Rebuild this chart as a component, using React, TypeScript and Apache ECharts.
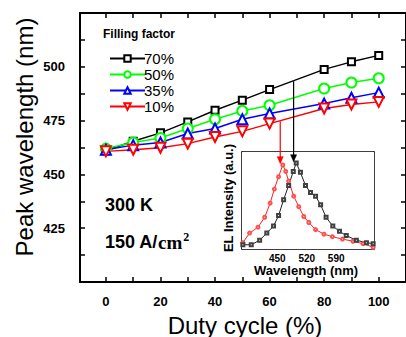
import React, { useEffect, useRef } from "react";
import * as echarts from "echarts";

// ---- main plot data ----
const DUTY = [0, 10, 20, 30, 40, 50, 60, 80, 90, 100];
const FF70 = [461, 465.4, 469.3, 474.4, 479.8, 484.5, 489.4, 498.8, 502.3, 505.3];
const FF50 = [462, 464.8, 466.9, 471.3, 475.6, 479.5, 482.1, 489.9, 492.7, 494.7];
const FF35 = [461.5, 463.6, 464.8, 469, 471.3, 475.6, 478.3, 482.9, 485.6, 488];
const FF10 = [460.7, 461.5, 462.4, 464.3, 467.4, 470, 473.6, 480.6, 482.5, 483.7];
const LEGEND_NAMES = ["70%", "50%", "35%", "10%"];

const X_TICKS = [0, 10, 20, 30, 40, 50, 60, 70, 80, 90, 100, 110];
const X_LABELS = [0, 20, 40, 60, 80, 100];
const Y_LABELS = [425, 450, 475, 500];

// ---- inset data (EL spectra) ----
const RED_WL = [368, 384, 404, 420, 433, 443, 453, 463, 470, 477, 489, 501, 513, 525, 541, 561, 581, 605, 630, 654, 678];
const RED_I = [0.065, 0.164, 0.225, 0.327, 0.473, 0.618, 0.745, 0.866, 0.8, 0.7, 0.545, 0.436, 0.335, 0.273, 0.2, 0.153, 0.127, 0.102, 0.08, 0.055, 0.018];
const BLK_WL = [368, 388, 408, 425, 441, 453, 465, 477, 488, 495, 505, 517, 529, 541, 553, 566, 582, 598, 614, 638, 662, 678];
const BLK_I = [0.044, 0.044, 0.09, 0.164, 0.236, 0.345, 0.509, 0.655, 0.8, 0.887, 0.79, 0.655, 0.582, 0.545, 0.455, 0.327, 0.236, 0.182, 0.138, 0.091, 0.065, 0.055];
const INSET_X_TICKS = [380, 415, 450, 485, 520, 555, 590, 625, 660];
const INSET_X_LABELS = [450, 520, 590];
const INSET_Y_TICKS = [0.062, 0.302, 0.542, 0.784];

// arrows: [duty, value on main curve] -> [wavelength, intensity] peak in inset
const ARROW_COLORS = ["#ff0000", "#000000"];
const ARROW_FROM = [[63.9, 474.7], [68.8, 493.3]];
const ARROW_TO = [[463, 0.88], [495, 0.9]];

const FONT = "'Liberation Sans', Arial, sans-serif";

function pairs(xs: number[], ys: number[]) {
  return xs.map((x, i) => [x, ys[i]]);
}

export default function App() {
  const ref = useRef<HTMLDivElement>(null);
  useEffect(() => {
    if (!ref.current) return;
    const chart = echarts.init(ref.current, null, { renderer: "svg" });

    const mainX = (pos: "bottom" | "top", labels: boolean) => ({
      type: "value",
      gridIndex: 0,
      position: pos,
      min: -9.5,
      max: 110,
      axisLine: { show: true, onZero: false, lineStyle: { color: "#000", width: 2 } },
      axisTick: { show: true, inside: true, length: 5, customValues: X_TICKS, lineStyle: { color: "#000", width: 1.5 } },
      axisLabel: {
        show: labels,
        customValues: X_LABELS,
        color: "#000",
        fontWeight: "bold",
        fontSize: 13,
        fontFamily: FONT,
        margin: 13,
      },
      splitLine: { show: false },
    });
    const mainY = (pos: "left" | "right", labels: boolean) => ({
      type: "value",
      gridIndex: 0,
      position: pos,
      min: 400,
      max: 525,
      interval: 12.5,
      axisLine: { show: true, onZero: false, lineStyle: { color: "#000", width: 2 } },
      axisTick: { show: true, inside: true, length: 5, lineStyle: { color: "#000", width: 1.5 } },
      axisLabel: {
        show: labels,
        customValues: Y_LABELS,
        color: "#000",
        fontWeight: "bold",
        fontSize: 13,
        fontFamily: FONT,
        margin: 15,
      },
      splitLine: { show: false },
    });
    const insetX = (pos: "bottom" | "top", labels: boolean) => ({
      type: "value",
      gridIndex: 1,
      position: pos,
      min: 366,
      max: 680,
      axisLine: { show: true, onZero: false, lineStyle: { color: "#000", width: 1.5 } },
      axisTick: { show: true, inside: true, length: 3, customValues: INSET_X_TICKS, lineStyle: { color: "#000", width: 1 } },
      axisLabel: {
        show: labels,
        customValues: INSET_X_LABELS,
        color: "#000",
        fontWeight: "bold",
        fontSize: 10,
        fontFamily: FONT,
        margin: 4,
      },
      splitLine: { show: false },
    });
    const insetY = (pos: "left" | "right") => ({
      type: "value",
      gridIndex: 1,
      position: pos,
      min: 0,
      max: 1,
      axisLine: { show: true, onZero: false, lineStyle: { color: "#000", width: 1.5 } },
      axisTick: { show: true, inside: true, length: 3, customValues: INSET_Y_TICKS, lineStyle: { color: "#000", width: 1 } },
      axisLabel: { show: false },
      splitLine: { show: false },
    });

    const mainSeries = (name: string, data: number[], color: string, symbol: string, size: number, rotate = 0) => ({
      name,
      type: "line",
      xAxisIndex: 0,
      yAxisIndex: 0,
      data: pairs(DUTY, data),
      symbol,
      symbolSize: size,
      symbolRotate: rotate,
      showAllSymbol: true,
      lineStyle: { color, width: 1.5 },
      itemStyle: { color, borderColor: color, borderWidth: 1.5 },
      z: 3,
    });

    const option: any = {
      animation: false,
      backgroundColor: "#fff",
      grid: [
        { left: 80, top: 13, width: 330.4, height: 269, show: false },
        { left: 242, top: 152, width: 132, height: 97, show: true, backgroundColor: "#fff", borderWidth: 0, z: 5 },
      ],
      xAxis: [mainX("bottom", true), mainX("top", false), insetX("bottom", true), insetX("top", false)],
      yAxis: [mainY("left", true), mainY("right", false), insetY("left"), insetY("right")],
      legend: {
        data: LEGEND_NAMES,
        orient: "vertical",
        left: 104,
        top: 46,
        itemWidth: 35,
        itemHeight: 8,
        itemGap: 1,
        textStyle: { fontSize: 15, color: "#000", fontFamily: FONT, padding: [0, 0, 0, -6] },
        inactiveColor: "#000",
      },
      series: [
        mainSeries("70%", FF70, "#000000", "emptyRect", 7),
        mainSeries("50%", FF50, "#00ff00", "emptyCircle", 10),
        mainSeries("35%", FF35, "#0000ff", "emptyTriangle", 10),
        mainSeries("10%", FF10, "#ff0000", "emptyTriangle", 10, 180),
        {
          name: "insetRed",
          type: "line",
          xAxisIndex: 2,
          yAxisIndex: 2,
          data: pairs(RED_WL, RED_I),
          symbol: "emptyCircle",
          symbolSize: 3,
          showAllSymbol: true,
          lineStyle: { color: "#ff2020", width: 1 },
          itemStyle: { color: "#ff5050", borderColor: "#ff5050", borderWidth: 0.8 },
          z: 6,
        },
        {
          name: "insetBlack",
          type: "line",
          xAxisIndex: 2,
          yAxisIndex: 2,
          data: pairs(BLK_WL, BLK_I),
          symbol: "emptyRect",
          symbolSize: 3,
          showAllSymbol: true,
          lineStyle: { color: "#202020", width: 1 },
          itemStyle: { color: "#404040", borderColor: "#404040", borderWidth: 0.8 },
          z: 6,
        },
      ],
    };
    chart.setOption(option);

    const graphics: any[] = [
      {
        type: "text",
        x: 24,
        y: 137,
        rotation: Math.PI / 2,
        style: { text: "Peak wavelength (nm)", font: `24px ${FONT}`, fill: "#000", align: "center", verticalAlign: "middle" },
      },
      {
        type: "text",
        x: 245,
        y: 325,
        style: { text: "Duty cycle (%)", font: `24px ${FONT}`, fill: "#000", align: "center", verticalAlign: "middle" },
      },
      {
        type: "text",
        x: 103,
        y: 34,
        style: { text: "Filling factor", font: `bold 12px ${FONT}`, fill: "#000", align: "left", verticalAlign: "middle" },
      },
      {
        type: "text",
        x: 105,
        y: 205,
        style: { text: "300 K", font: `bold 18px ${FONT}`, fill: "#000", align: "left", verticalAlign: "middle" },
      },
      {
        type: "text",
        x: 105,
        y: 242,
        style: {
          text: "{a|150 A/}{b|cm}{c|2}",
          fill: "#000",
          align: "left",
          verticalAlign: "middle",
          rich: {
            a: { font: `bold 18px ${FONT}`, fill: "#000" },
            b: { font: `bold 19px 'Liberation Serif', 'Times New Roman', serif`, fill: "#000" },
            c: { font: `bold 12px 'Liberation Serif', 'Times New Roman', serif`, fill: "#000", verticalAlign: "top", padding: [0, 0, 10, 1] },
          },
        },
      },
      {
        type: "text",
        x: 228,
        y: 198,
        rotation: Math.PI / 2,
        z: 10,
        style: { text: "EL Intensity (a.u.)", font: `bold 13px ${FONT}`, fill: "#000", align: "center", verticalAlign: "middle" },
      },
      {
        type: "text",
        x: 306,
        y: 270,
        z: 10,
        style: { text: "Wavelength (nm)", font: `bold 13px ${FONT}`, fill: "#000", align: "center", verticalAlign: "middle" },
      },
    ];

    ARROW_FROM.forEach((from, i) => {
      const p0 = chart.convertToPixel({ xAxisIndex: 0, yAxisIndex: 0 } as any, from) as number[];
      const p1 = chart.convertToPixel({ xAxisIndex: 2, yAxisIndex: 2 } as any, ARROW_TO[i]) as number[];
      const x = p0[0];
      const color = ARROW_COLORS[i];
      graphics.push({
        type: "line",
        z: 20,
        shape: { x1: x, y1: p0[1], x2: x, y2: p1[1] - 5 },
        style: { stroke: color, lineWidth: 1.2 },
      });
      graphics.push({
        type: "polygon",
        z: 20,
        shape: { points: [[x - 3, p1[1] - 7], [x + 3, p1[1] - 7], [x, p1[1]]] },
        style: { fill: color, stroke: color, lineWidth: 0.5 },
      });
    });

    chart.setOption({ graphic: graphics });

    return () => chart.dispose();
  }, []);

  return <div ref={ref} style={{ position: "absolute", left: 0, top: 0, width: 406, height: 337 }} />;
}
